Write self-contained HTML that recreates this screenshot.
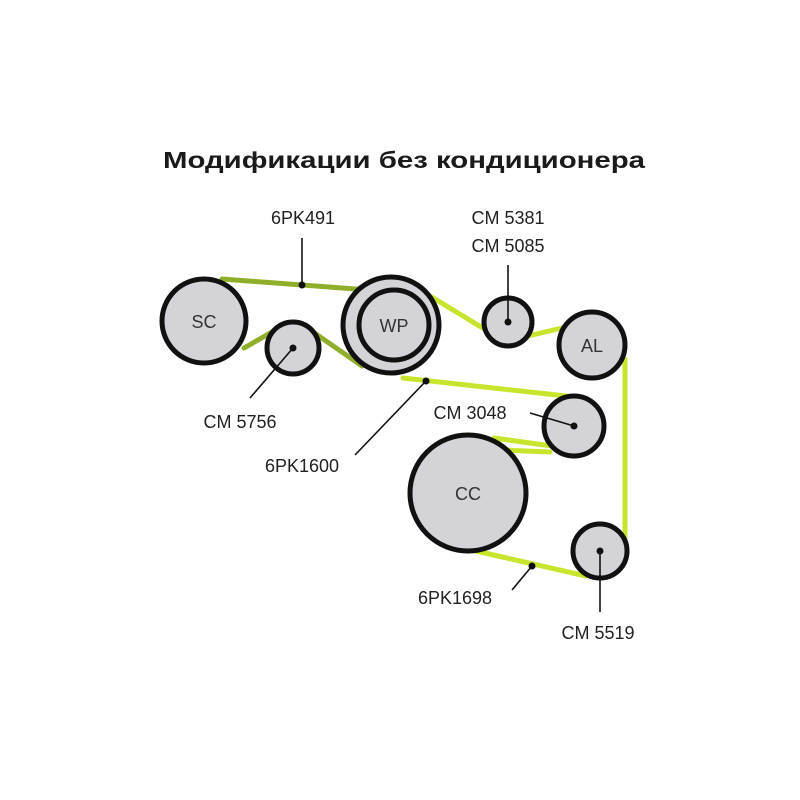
<!DOCTYPE html>
<html><head><meta charset="utf-8"><style>html,body{margin:0;padding:0;background:#fff}svg{display:block}</style></head>
<body>
<svg width="800" height="800" viewBox="0 0 800 800" xmlns="http://www.w3.org/2000/svg" font-family="Liberation Sans, sans-serif">
<rect width="800" height="800" fill="#fff"/>
<text x="404" y="168" font-size="23" font-weight="bold" fill="#1a1a1a" text-anchor="middle" textLength="482" lengthAdjust="spacingAndGlyphs">Модификации без кондиционера</text>
<g stroke-linecap="round" fill="none">
<g stroke="#8fae2a" stroke-width="5">
<line x1="222" y1="279" x2="382" y2="291"/>
<line x1="244" y1="348" x2="272" y2="332"/>
<line x1="316" y1="334" x2="362" y2="366"/>
</g>
<g stroke="#c9e42c" stroke-width="5">
<line x1="430" y1="296" x2="486" y2="330"/>
<line x1="528" y1="336" x2="562" y2="328"/>
<polyline points="622,360 625,360 625,538 622,545"/>
<line x1="403" y1="378" x2="566" y2="396"/>
<line x1="494" y1="438" x2="552" y2="446"/>
<line x1="503" y1="450" x2="550" y2="452"/>
<line x1="476" y1="551" x2="586" y2="576"/>
</g>
</g>
<g stroke="#111" fill="#d4d4d8">
<circle cx="204" cy="321" r="42" stroke-width="5"/>
<circle cx="293" cy="348" r="26" stroke-width="5"/>
<circle cx="391" cy="325" r="48" stroke-width="5"/>
<circle cx="394" cy="325" r="35" stroke-width="5"/>
<circle cx="508" cy="322" r="24" stroke-width="5"/>
<circle cx="592" cy="345" r="33" stroke-width="5"/>
<circle cx="574" cy="426" r="30" stroke-width="5"/>
<circle cx="468" cy="493" r="58" stroke-width="5"/>
<circle cx="600" cy="551" r="27" stroke-width="5"/>
</g>
<g fill="#333" font-size="18" text-anchor="middle">
<text x="204" y="328">SC</text>
<text x="394" y="332">WP</text>
<text x="592" y="352">AL</text>
<text x="468" y="500">CC</text>
</g>
<g stroke="#111" stroke-width="1.6">
<line x1="302" y1="285" x2="302" y2="238"/>
<line x1="508" y1="322" x2="508" y2="265"/>
<line x1="293" y1="348" x2="250" y2="398"/>
<line x1="426" y1="381" x2="355" y2="455"/>
<line x1="574" y1="426" x2="530" y2="413"/>
<line x1="532" y1="566" x2="512" y2="590"/>
<line x1="600" y1="551" x2="600" y2="612"/>
</g>
<g fill="#111">
<circle cx="302" cy="285" r="3.5"/>
<circle cx="508" cy="322" r="3.5"/>
<circle cx="293" cy="348" r="3.5"/>
<circle cx="426" cy="381" r="3.5"/>
<circle cx="574" cy="426" r="3.5"/>
<circle cx="532" cy="566" r="3.5"/>
<circle cx="600" cy="551" r="3.5"/>
</g>
<g fill="#222" font-size="18" text-anchor="middle">
<text x="303" y="224">6PK491</text>
<text x="508" y="224">CM 5381</text>
<text x="508" y="252">CM 5085</text>
<text x="240" y="428">CM 5756</text>
<text x="302" y="472">6PK1600</text>
<text x="470" y="419">CM 3048</text>
<text x="455" y="604">6PK1698</text>
<text x="598" y="639">CM 5519</text>
</g>
</svg>
</body></html>
